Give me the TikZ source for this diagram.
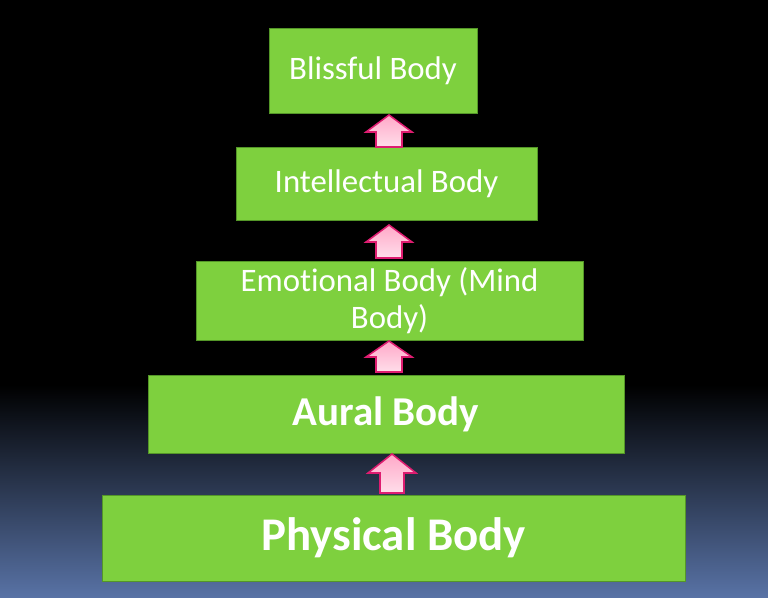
\documentclass[tikz,border=0pt]{standalone}
\usepackage{fontspec}
\setmainfont{Carlito}[Ligatures=NoCommon]
\newdimen\pxu \pxu=0.03cm
\definecolor{bodygreen}{RGB}{126,208,62}
\definecolor{bodyedge}{RGB}{84,150,40}
\definecolor{skyblue}{RGB}{88,114,165}
\definecolor{arrowpink}{RGB}{255,168,200}
\definecolor{arrowlight}{RGB}{255,222,234}
\definecolor{arrowedge}{RGB}{222,28,112}
\tikzset{
  bodybox/.style={rectangle, draw=bodyedge, line width=0.8pt, fill=bodygreen,
                  text=white, inner sep=0pt, align=center},
  uparrow/.style={draw=arrowedge, line width=1.3pt, line join=miter,
                  top color=arrowpink, bottom color=arrowlight}
}
% block arrow: centre x, tip y, head base y, foot y, half head, half shaft
\newcommand{\bodyarrow}[6]{%
  \draw[uparrow] (#1,#2) -- (#1+#5,#3) -- (#1+#6,#3) -- (#1+#6,#4)
        -- (#1-#6,#4) -- (#1-#6,#3) -- (#1-#5,#3) -- cycle;}
\begin{document}
\begin{tikzpicture}[x=0.03cm, y=-0.03cm]
   \useasboundingbox (0,0) rectangle (768,597);
   \fill[black] (0,0) rectangle (768,597);
   \shade[top color=black, bottom color=skyblue] (0,385) rectangle (768,597);

   \node [bodybox, minimum width=208\pxu, minimum height=85\pxu,
          font=\fontsize{28}{32}\selectfont] (blissful) at (373,71) {Blissful Body};
   \node [bodybox, minimum width=301\pxu, minimum height=73\pxu,
          font=\fontsize{28}{32}\selectfont] (intellect) at (386.5,184) {Intellectual Body};
   \node [bodybox, minimum width=387\pxu, minimum height=79\pxu,
          font=\fontsize{28}{31.6}\selectfont] (emotion) at (389.5,301) {Emotional Body (Mind\\Body)};
   \node [bodybox, minimum width=476\pxu, minimum height=78\pxu,
          font=\fontsize{35}{40}\selectfont\bfseries] (aural) at (386,414) {Aural Body};
   \node [bodybox, minimum width=583\pxu, minimum height=86\pxu,
          font=\fontsize{40}{44}\selectfont\bfseries] (physical) at (393.5,538) {Physical Body};

   \bodyarrow{389}{115}{132}{147}{23}{13}
   \bodyarrow{389}{225}{242}{258}{23}{13}
   \bodyarrow{389}{341}{357}{372}{23}{13}
   \bodyarrow{392}{454}{473}{493}{24}{12}
\end{tikzpicture}
\end{document}
